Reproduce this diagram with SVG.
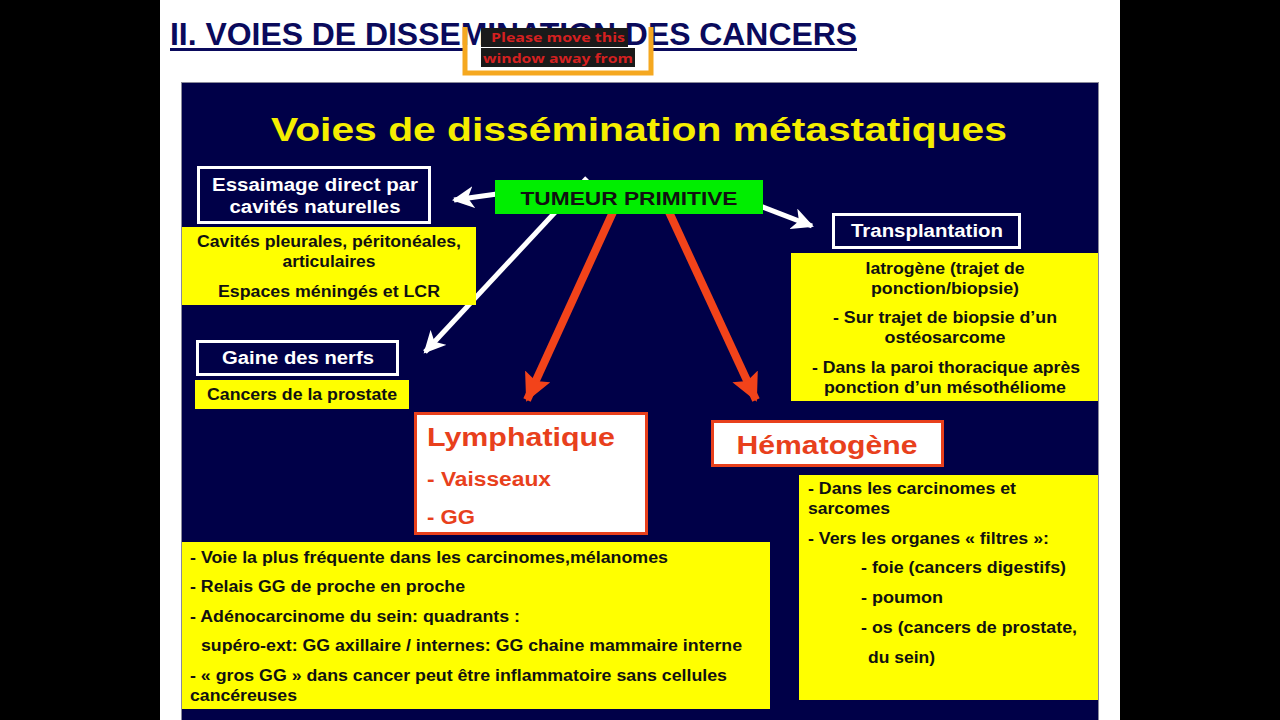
<svg xmlns="http://www.w3.org/2000/svg" width="1280" height="720" viewBox="0 0 1280 720">
<defs>
<style>
.b{font-family:"Liberation Sans",Arial,sans-serif;font-weight:bold}
.wbox{fill:#000048;stroke:#ffffff;stroke-width:3}
.ybox{fill:#ffff00}
.rbox{fill:#ffffff;stroke:#e8401c;stroke-width:3}
.wt{fill:#ffffff;font-size:18px}
.kt{fill:#111111;font-size:16px}
.rt{fill:#e8401c}
.wl{stroke:#ffffff;stroke-width:5;fill:none}
.rl{stroke:#f2431a;stroke-width:8;fill:none}
</style>
<marker id="aw" markerUnits="userSpaceOnUse" markerWidth="24" markerHeight="22" refX="20" refY="11" orient="auto">
<path d="M0,0 L22,11 L0,22 L6,11 Z" fill="#ffffff"/>
</marker>
<marker id="ar" markerUnits="userSpaceOnUse" markerWidth="30" markerHeight="28" refX="26" refY="14" orient="auto">
<path d="M0,0 L28,14 L0,28 L5,14 Z" fill="#f2431a"/>
</marker>
</defs>
<rect width="1280" height="720" fill="#000000"/>
<rect x="160" y="0" width="960" height="720" fill="#ffffff"/>
<g id="page-title">
<text class="b" x="170" y="45" font-size="31" fill="#0a0a5c" textLength="687" lengthAdjust="spacingAndGlyphs">II. VOIES DE DISSEMINATION DES CANCERS</text>
<rect x="170" y="48" width="687" height="3" fill="#0a0a5c"/>
</g>
<g id="overlay">
<rect x="465" y="48" width="186" height="25" fill="#ffffff"/>
<path d="M465,27 V73 H651 V27" fill="none" stroke="#f5a820" stroke-width="5"/>
<rect x="481" y="28" width="147" height="19" fill="#1a1a1a"/>
<rect x="481" y="48" width="154" height="19" fill="#1a1a1a"/>
<text x="558" y="42" font-family="'Open Sans','Liberation Sans',sans-serif" font-weight="bold" font-size="13" fill="#d42020" text-anchor="middle" textLength="134" lengthAdjust="spacingAndGlyphs">Please move this</text>
<text x="558" y="63" font-family="'Open Sans','Liberation Sans',sans-serif" font-weight="bold" font-size="13" fill="#d42020" text-anchor="middle" textLength="150" lengthAdjust="spacingAndGlyphs">window away from</text>
</g>
<rect id="slide" x="181.5" y="82.5" width="917" height="645" fill="#000048" stroke="#8a8a9a" stroke-width="1"/>
<text class="b" x="639" y="141" font-size="34" fill="#f5ee00" text-anchor="middle" textLength="736" lengthAdjust="spacingAndGlyphs">Voies de dissémination métastatiques</text>
<g id="connectors">
<line class="wl" x1="497" y1="194" x2="454" y2="200" marker-end="url(#aw)"/>
<line class="wl" x1="587" y1="178" x2="425" y2="352" marker-end="url(#aw)"/>
<line class="wl" x1="760" y1="206" x2="812" y2="226" marker-end="url(#aw)"/>
<line class="rl" x1="613" y1="212" x2="527" y2="400" marker-end="url(#ar)"/>
<line class="rl" x1="669" y1="212" x2="756" y2="400" marker-end="url(#ar)"/>
</g>
<g id="tumeur">
<rect x="495" y="180" width="268" height="34" fill="#00ee00"/>
<text class="b" x="629" y="205" font-size="19" fill="#111111" text-anchor="middle" textLength="217" lengthAdjust="spacingAndGlyphs">TUMEUR PRIMITIVE</text>
</g>
<g id="essaimage">
<rect class="wbox" x="198.5" y="167.5" width="231" height="55"/>
<text class="b wt" x="315" y="191" text-anchor="middle" textLength="206" lengthAdjust="spacingAndGlyphs">Essaimage direct par</text>
<text class="b wt" x="315" y="213" text-anchor="middle" textLength="171" lengthAdjust="spacingAndGlyphs">cavités naturelles</text>
</g>
<g id="essaimage-detail">
<rect class="ybox" x="182" y="227" width="294" height="78"/>
<text class="b kt" x="329" y="247" text-anchor="middle" textLength="264" lengthAdjust="spacingAndGlyphs">Cavités pleurales, péritonéales,</text>
<text class="b kt" x="329" y="267" text-anchor="middle" textLength="93" lengthAdjust="spacingAndGlyphs">articulaires</text>
<text class="b kt" x="329" y="297" text-anchor="middle" textLength="222" lengthAdjust="spacingAndGlyphs">Espaces méningés et LCR</text>
</g>
<g id="transplantation">
<rect class="wbox" x="833.5" y="214.5" width="186" height="33"/>
<text class="b wt" x="927" y="237" text-anchor="middle" textLength="152" lengthAdjust="spacingAndGlyphs">Transplantation</text>
</g>
<g id="transplantation-detail">
<rect class="ybox" x="791" y="253" width="307" height="148"/>
<text class="b kt" x="945" y="274" text-anchor="middle" textLength="159" lengthAdjust="spacingAndGlyphs">Iatrogène (trajet de</text>
<text class="b kt" x="945" y="294" text-anchor="middle" textLength="148" lengthAdjust="spacingAndGlyphs">ponction/biopsie)</text>
<text class="b kt" x="945" y="323" text-anchor="middle" textLength="224" lengthAdjust="spacingAndGlyphs">- Sur trajet de biopsie d’un</text>
<text class="b kt" x="945" y="343" text-anchor="middle" textLength="121" lengthAdjust="spacingAndGlyphs">ostéosarcome</text>
<text class="b kt" x="946" y="373" text-anchor="middle" textLength="268" lengthAdjust="spacingAndGlyphs">- Dans la paroi thoracique après</text>
<text class="b kt" x="945" y="393" text-anchor="middle" textLength="242" lengthAdjust="spacingAndGlyphs">ponction d’un mésothéliome</text>
</g>
<g id="gaine">
<rect class="wbox" x="197.5" y="341.5" width="200" height="33"/>
<text class="b wt" x="298" y="364" text-anchor="middle" textLength="152" lengthAdjust="spacingAndGlyphs">Gaine des nerfs</text>
</g>
<g id="gaine-detail">
<rect class="ybox" x="195" y="380" width="214" height="29"/>
<text class="b kt" x="302" y="400" text-anchor="middle" textLength="190" lengthAdjust="spacingAndGlyphs">Cancers de la prostate</text>
</g>
<g id="lymphatique">
<rect class="rbox" x="415.5" y="413.5" width="231" height="120"/>
<text class="b rt" x="427" y="446" font-size="25" textLength="188" lengthAdjust="spacingAndGlyphs">Lymphatique</text>
<text class="b rt" x="427" y="486" font-size="20" textLength="124" lengthAdjust="spacingAndGlyphs">- Vaisseaux</text>
<text class="b rt" x="427" y="524" font-size="20" textLength="48" lengthAdjust="spacingAndGlyphs">- GG</text>
</g>
<g id="hematogene">
<rect class="rbox" x="712.5" y="421.5" width="230" height="44"/>
<text class="b rt" x="827" y="454" font-size="25" text-anchor="middle" textLength="181" lengthAdjust="spacingAndGlyphs">Hématogène</text>
</g>
<g id="lymphatique-detail">
<rect class="ybox" x="182" y="542" width="588" height="167"/>
<text class="b kt" x="190" y="563" textLength="478" lengthAdjust="spacingAndGlyphs">- Voie la plus fréquente dans les carcinomes,mélanomes</text>
<text class="b kt" x="190" y="592" textLength="275" lengthAdjust="spacingAndGlyphs">- Relais GG de proche en proche</text>
<text class="b kt" x="190" y="622" textLength="330" lengthAdjust="spacingAndGlyphs">- Adénocarcinome du sein: quadrants :</text>
<text class="b kt" x="201" y="651" textLength="541" lengthAdjust="spacingAndGlyphs">supéro-ext: GG axillaire / internes: GG chaine mammaire interne</text>
<text class="b kt" x="190" y="681" textLength="537" lengthAdjust="spacingAndGlyphs">- « gros GG » dans cancer peut être inflammatoire sans cellules</text>
<text class="b kt" x="190" y="701" textLength="107" lengthAdjust="spacingAndGlyphs">cancéreuses</text>
</g>
<g id="hematogene-detail">
<rect class="ybox" x="799" y="475" width="299" height="225"/>
<text class="b kt" x="808" y="494" textLength="208" lengthAdjust="spacingAndGlyphs">- Dans les carcinomes et</text>
<text class="b kt" x="808" y="514" textLength="82" lengthAdjust="spacingAndGlyphs">sarcomes</text>
<text class="b kt" x="808" y="544" textLength="241" lengthAdjust="spacingAndGlyphs">- Vers les organes « filtres »:</text>
<text class="b kt" x="861" y="573" textLength="205" lengthAdjust="spacingAndGlyphs">- foie (cancers digestifs)</text>
<text class="b kt" x="861" y="603" textLength="82" lengthAdjust="spacingAndGlyphs">- poumon</text>
<text class="b kt" x="861" y="633" textLength="216" lengthAdjust="spacingAndGlyphs">- os (cancers de prostate,</text>
<text class="b kt" x="868" y="663" textLength="67" lengthAdjust="spacingAndGlyphs">du sein)</text>
</g>
</svg>
